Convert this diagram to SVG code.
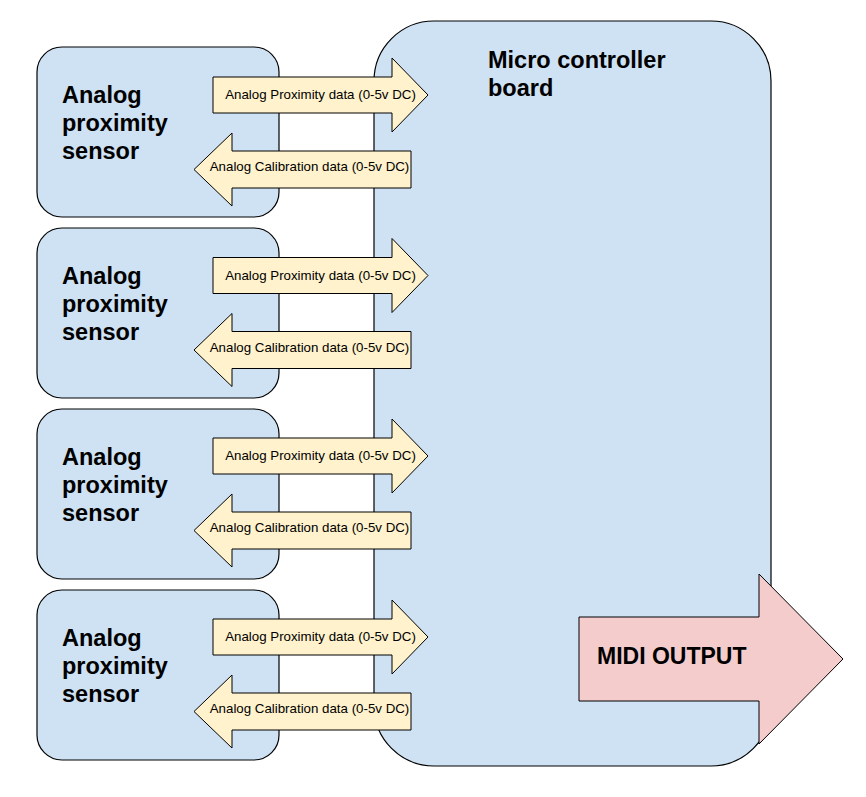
<svg xmlns="http://www.w3.org/2000/svg" width="866" height="797" viewBox="0 0 866 797">
<defs>
<style>
.sensor{fill:#cfe2f3;stroke:#000;stroke-width:1.2}
.board{fill:#cfe2f3;stroke:#000;stroke-width:1.2}
.arr{fill:#fff2cc;stroke:#000;stroke-width:1}
.midi{fill:#f4cccc;stroke:#000;stroke-width:1}
.big{font-family:"Liberation Sans",Arial,sans-serif;font-weight:bold;font-size:23.5px;fill:#000}
.small{font-family:"Liberation Sans",Arial,sans-serif;font-size:13.3px;fill:#000}
</style>
<path id="rarrow" d="M213,77 H392 V58 L428,95 L392,132 V113 H213 Z"/>
<path id="larrow" d="M411,151 H232 V133 L194,169.5 L232,206 V188 H411 Z"/>
</defs>
<rect width="866" height="797" fill="#fff"/>
<g id="sensor1"><rect class="sensor" x="37" y="47" width="242" height="170" rx="25"/><text class="big" x="62"><tspan x="62" y="103">Analog</tspan><tspan x="62" y="131">proximity</tspan><tspan x="62" y="159">sensor</tspan></text></g>
<g id="sensor2" transform="translate(0,181)"><rect class="sensor" x="37" y="47" width="242" height="170" rx="25"/><text class="big" x="62"><tspan x="62" y="103">Analog</tspan><tspan x="62" y="131">proximity</tspan><tspan x="62" y="159">sensor</tspan></text></g>
<g id="sensor3" transform="translate(0,362)"><rect class="sensor" x="37" y="47" width="242" height="170" rx="25"/><text class="big" x="62"><tspan x="62" y="103">Analog</tspan><tspan x="62" y="131">proximity</tspan><tspan x="62" y="159">sensor</tspan></text></g>
<g id="sensor4" transform="translate(0,543)"><rect class="sensor" x="37" y="47" width="242" height="170" rx="25"/><text class="big" x="62"><tspan x="62" y="103">Analog</tspan><tspan x="62" y="131">proximity</tspan><tspan x="62" y="159">sensor</tspan></text></g>
<g id="board"><rect class="board" x="374" y="21" width="397" height="745" rx="60"/><text class="big"><tspan x="488" y="68">Micro controller</tspan><tspan x="488" y="96">board</tspan></text></g>
<g id="connectors">
<g transform="translate(0,0)"><use href="#rarrow" class="arr"/><text class="small" x="320.5" y="99" text-anchor="middle">Analog Proximity data (0-5v DC)</text><use href="#larrow" class="arr"/><text class="small" x="309.5" y="171" text-anchor="middle">Analog Calibration data (0-5v DC)</text></g>
<g transform="translate(0,180.5)"><use href="#rarrow" class="arr"/><text class="small" x="320.5" y="99" text-anchor="middle">Analog Proximity data (0-5v DC)</text><use href="#larrow" class="arr"/><text class="small" x="309.5" y="171" text-anchor="middle">Analog Calibration data (0-5v DC)</text></g>
<g transform="translate(0,361)"><use href="#rarrow" class="arr"/><text class="small" x="320.5" y="99" text-anchor="middle">Analog Proximity data (0-5v DC)</text><use href="#larrow" class="arr"/><text class="small" x="309.5" y="171" text-anchor="middle">Analog Calibration data (0-5v DC)</text></g>
<g transform="translate(0,542)"><use href="#rarrow" class="arr"/><text class="small" x="320.5" y="99" text-anchor="middle">Analog Proximity data (0-5v DC)</text><use href="#larrow" class="arr"/><text class="small" x="309.5" y="171" text-anchor="middle">Analog Calibration data (0-5v DC)</text></g>
</g>
<g id="midi"><path class="midi" d="M579,617 H759 V574 L843,659 L759,744 V701 H579 Z"/><text class="big" x="597" y="664" style="font-size:23px">MIDI OUTPUT</text></g>
</svg>
